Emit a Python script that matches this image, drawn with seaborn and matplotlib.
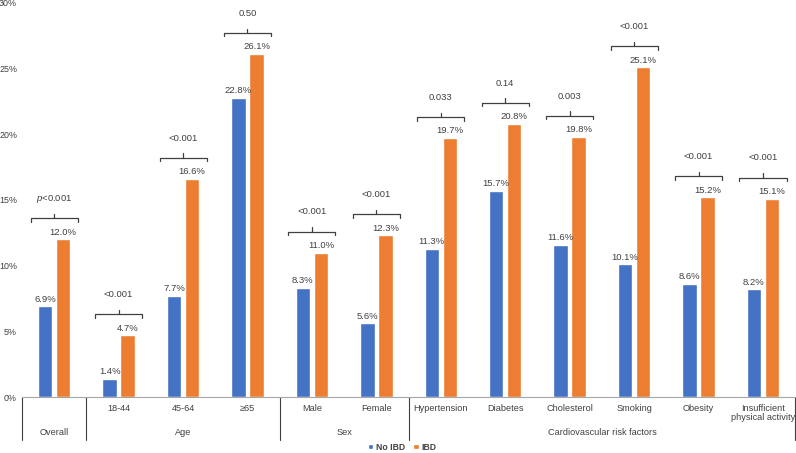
import matplotlib
matplotlib.use("Agg")
import matplotlib.pyplot as plt
import matplotlib.transforms as mtransforms
import seaborn as sns
import pandas as pd
import numpy as np

# ---- data ----
categories = ["Overall", "18-44", "45-64", "≥65", "Male", "Female",
              "Hypertension", "Diabetes", "Cholesterol", "Smoking", "Obesity",
              "Insufficient\nphysical activity"]
tick_labels = ["", "18-44", "45-64", "≥65", "Male", "Female",
               "Hypertension", "Diabetes", "Cholesterol", "Smoking", "Obesity",
               "Insufficient\nphysical activity"]
no_ibd = [6.9, 1.4, 7.7, 22.8, 8.3, 5.6, 11.3, 15.7, 11.6, 10.1, 8.6, 8.2]
ibd = [12.0, 4.7, 16.6, 26.1, 11.0, 12.3, 19.7, 20.8, 19.8, 25.1, 15.2, 15.1]
p_values = ["$p$<0.001", "<0.001", "<0.001", "0.50", "<0.001", "<0.001",
            "0.033", "0.14", "0.003", "<0.001", "<0.001", "<0.001"]
group_names = ["Overall", "Age", "Sex", "Cardiovascular risk factors"]
group_sizes = [1, 3, 2, 6]
series_names = ["No IBD", "IBD"]
colors = ["#4472C4", "#ED7D31"]

df = pd.DataFrame({
    "category": categories * 2,
    "value": no_ibd + ibd,
    "series": [series_names[0]] * len(categories) + [series_names[1]] * len(categories),
})

sns.set_theme(style="white")
plt.rcParams["font.family"] = ["Liberation Sans", "DejaVu Sans"]
plt.rcParams["mathtext.fontset"] = "custom"
plt.rcParams["mathtext.it"] = "Liberation Sans:italic"
plt.rcParams["mathtext.rm"] = "Liberation Sans"
text_color = "#404040"

fig = plt.figure(figsize=(7.96, 4.53), dpi=100)
ax = fig.add_axes([0.0276, 0.1236, 0.9714, 0.8698])

sns.barplot(data=df, x="category", y="value", hue="series", order=categories,
            hue_order=series_names, palette=colors, width=0.56, gap=0.2,
            saturation=1, ax=ax, legend=True)

ax.set_ylim(0, 30)
ax.set_xlim(-0.5, len(categories) - 0.5)
ax.set_yticks(np.arange(0, 31, 5))
ax.set_yticklabels([f"{int(t)}%" for t in np.arange(0, 31, 5)], fontsize=6.4, color=text_color)
ax.tick_params(axis="y", length=0, pad=3.5)
ax.set_xlabel("")
ax.set_ylabel("")
ax.set_xticks(range(len(categories)))
ax.set_xticklabels(tick_labels, fontsize=6.6, color=text_color, linespacing=1.0)
ax.tick_params(axis="x", length=0, pad=5)

for s in ["top", "right", "left"]:
    ax.spines[s].set_visible(False)
ax.spines["bottom"].set_color("#a6a6a6")
ax.spines["bottom"].set_linewidth(0.8)

# value labels
for cont in ax.containers:
    vals = cont.datavalues
    ax.bar_label(cont, labels=[f"{v:.1f}%" for v in vals], padding=2,
                 fontsize=6.8, color=text_color)

# brackets and p-values
for i, (a, b, p) in enumerate(zip(no_ibd, ibd, p_values)):
    top = max(a, b)
    yb = top + 1.6
    hw = 0.365
    ax.plot([i - hw, i - hw, i + hw, i + hw], [yb - 0.25, yb, yb, yb - 0.25],
            color="#404040", lw=0.9, clip_on=False)
    ax.plot([i, i], [yb, yb + 0.35], color="#404040", lw=0.9, clip_on=False)
    ax.text(i, yb + 1.5, p, ha="center", va="center", fontsize=6.8, color=text_color)

# group separators and labels
trans = mtransforms.blended_transform_factory(ax.transData, ax.transAxes)
bounds = np.concatenate([[0], np.cumsum(group_sizes)]) - 0.5
for bx in bounds:
    ax.plot([bx, bx], [0, -0.109], transform=trans, color="#404040", lw=0.8, clip_on=False)
for k, name in enumerate(group_names):
    cx = (bounds[k] + bounds[k + 1]) / 2
    ax.text(cx, -0.091, name, transform=trans, ha="center", va="center",
            fontsize=6.6, color=text_color)

# legend
handles, labels = ax.get_legend_handles_labels()
ax.legend(handles, labels, loc="center", bbox_to_anchor=(0.505, 0.013),
          bbox_transform=fig.transFigure, ncol=2, frameon=False,
          prop={"size": 6.2, "weight": "bold"}, handlelength=0.6, handleheight=0.6,
          handletextpad=0.3, columnspacing=1.0, labelcolor=text_color)

fig.savefig("out.png", dpi=100)
